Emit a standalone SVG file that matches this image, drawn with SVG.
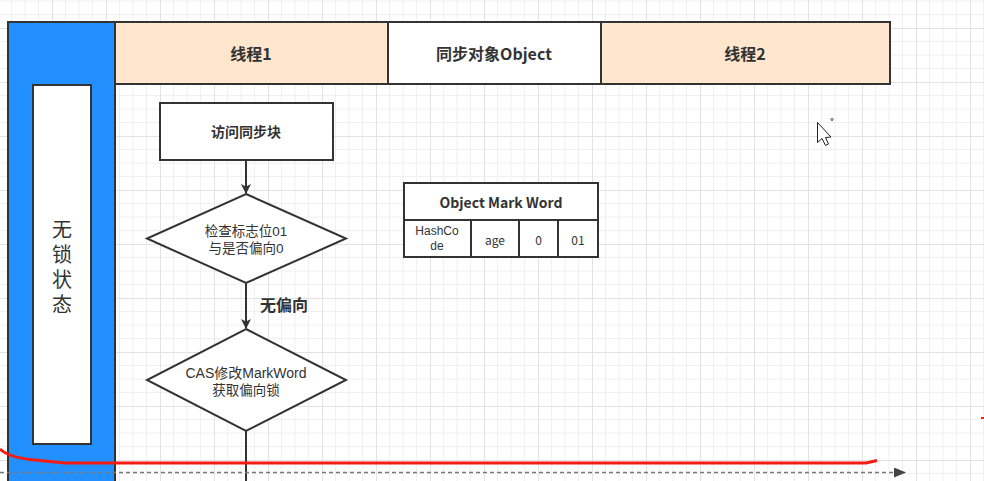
<svg xmlns="http://www.w3.org/2000/svg" width="984" height="481" viewBox="0 0 984 481">
<defs>
<pattern id="grid" patternUnits="userSpaceOnUse" x="-2" y="28" width="54" height="54">
<path d="M13.5 0V54M27 0V54M40.5 0V54M0 13.5H54M0 27H54M0 40.5H54" stroke="#f0f0f0" stroke-width="1" fill="none"/>
<path d="M0.5 0V54M0 0.5H54" stroke="#e2e2e2" stroke-width="1" fill="none"/>
</pattern>
<marker id="arr" viewBox="0 0 10 10" refX="9" refY="5" markerWidth="10" markerHeight="10" markerUnits="userSpaceOnUse" orient="auto">
<path d="M0 0L10 5L0 10L2.5 5Z" fill="#333"/>
</marker>
<marker id="arrg" viewBox="0 0 12 10" refX="11" refY="5" markerWidth="12" markerHeight="10" markerUnits="userSpaceOnUse" orient="auto">
<path d="M0 0L12 5L0 10Z" fill="#444"/>
</marker>
</defs>
<style>
.b{stroke:#333;stroke-width:2}
.t{font-family:"Noto Sans CJK SC","Liberation Sans",sans-serif;fill:#333;text-anchor:middle;dominant-baseline:central}
.m{font-family:"Liberation Sans","Noto Sans CJK SC",sans-serif}
.h{font-size:16px;font-weight:bold}
.n{font-size:13.5px}
.c{fill:none;stroke:#333;stroke-width:2}
</style>
<rect width="984" height="481" fill="#fff"/>
<rect width="984" height="481" fill="url(#grid)"/>

<g id="lane-state">
<rect x="8" y="22" width="107" height="470" fill="#2290ff" class="b"/>
<rect x="33" y="85" width="58" height="359" fill="#fff" class="b"/>
<text class="t" font-size="20" writing-mode="vertical-rl" letter-spacing="5" x="62" y="269">无锁状态</text>
</g>

<g id="header-thread1">
<rect x="115" y="22" width="273" height="62" fill="#ffe6cc" class="b"/>
<text class="t h" x="251" y="53">线程1</text>
</g>
<g id="header-object">
<rect x="388" y="22" width="213" height="62" fill="#fff" class="b"/>
<text class="t h" x="494" y="53">同步对象Object</text>
</g>
<g id="header-thread2">
<rect x="601" y="22" width="289" height="62" fill="#ffe6cc" class="b"/>
<text class="t h" x="745" y="53">线程2</text>
</g>

<g id="access-block">
<rect x="160" y="103" width="173" height="57" fill="#fff" class="b"/>
<text class="t" font-size="14" font-weight="bold" x="246" y="131">访问同步块</text>
</g>

<g id="check-flag">
<polygon points="246,194 346,238.5 246,283 147,238.5" fill="#fff" class="b"/>
<text class="t m n" x="246" y="231"><tspan x="246" y="231">检查标志位01</tspan><tspan x="246" y="248">与是否偏向0</tspan></text>
</g>

<g id="cas-modify">
<polygon points="246,329 346,380 246,431 147,380" fill="#fff" class="b"/>
<text class="t m n" x="246" y="373"><tspan x="246" y="373" font-size="14">CAS修改MarkWord</tspan><tspan x="246" y="390">获取偏向锁</tspan></text>
</g>

<g id="mark-word">
<rect x="404" y="183" width="194" height="74" fill="#fff" class="b"/>
<line x1="404" y1="220" x2="598" y2="220" class="b"/>
<line x1="471" y1="220" x2="471" y2="257" class="b"/>
<line x1="519" y1="220" x2="519" y2="257" class="b"/>
<line x1="558" y1="220" x2="558" y2="257" class="b"/>
<text class="t" font-size="14" font-weight="bold" x="501" y="202">Object Mark Word</text>
<text class="t m" font-size="12" x="437" y="231"><tspan x="437" y="231">HashCo</tspan><tspan x="437" y="246">de</tspan></text>
<text class="t" font-size="12" x="495" y="239">age</text>
<text class="t" font-size="12" x="538.5" y="239">0</text>
<text class="t" font-size="12" x="578" y="239">01</text>
</g>

<g id="connectors">
<line x1="246" y1="160" x2="246" y2="193" class="c" marker-end="url(#arr)"/>
<line x1="246" y1="283" x2="246" y2="328" class="c" marker-end="url(#arr)"/>
<text class="t" font-size="16" font-weight="bold" x="284" y="304">无偏向</text>
<line x1="246" y1="431" x2="246" y2="485" class="c"/>
<line x1="0" y1="472.5" x2="905" y2="472.5" stroke="#777" stroke-width="1.5" stroke-dasharray="4 3" marker-end="url(#arrg)"/>
</g>

<g id="annotation">
<path d="M0 449 Q8 457 30 459.5 L65 463 L866 463 L877 460.5" fill="none" stroke="#f41b12" stroke-width="3"/>
<rect x="981" y="417" width="3" height="2" fill="#f41b12"/>
</g>

<g id="cursor">
<path d="M817.5 122.5V142.5L822 138.5L825.5 145.5L828.5 144L825.5 137.5L831 137Z" fill="#fff" stroke="#222" stroke-width="1"/>
<circle cx="832" cy="119.5" r="1" fill="none" stroke="#222" stroke-width="0.8"/>
</g>
</svg>
